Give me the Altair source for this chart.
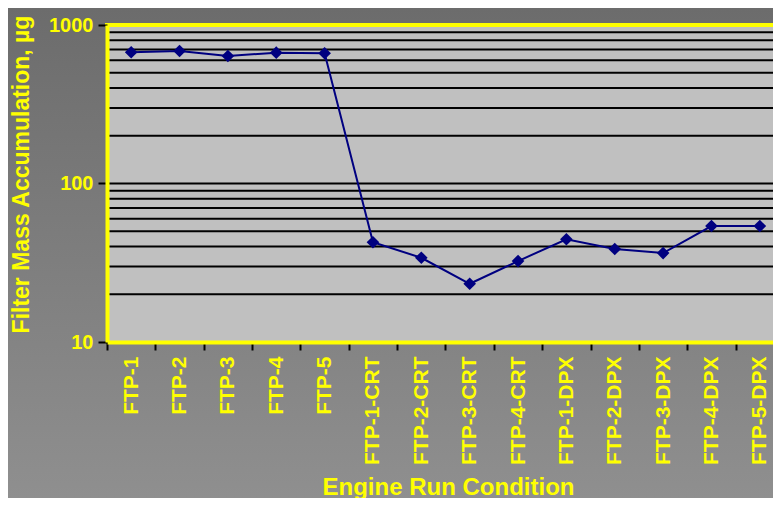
import altair as alt
import pandas as pd

categories = ["FTP-1", "FTP-2", "FTP-3", "FTP-4", "FTP-5",
              "FTP-1-CRT", "FTP-2-CRT", "FTP-3-CRT", "FTP-4-CRT",
              "FTP-1-DPX", "FTP-2-DPX", "FTP-3-DPX", "FTP-4-DPX", "FTP-5-DPX"]
mass_ug = [673, 685, 637, 669, 663, 42.6, 34.0, 23.3, 32.4, 44.5, 38.6, 36.4, 53.9, 53.9]
grid_values = [20, 30, 40, 50, 60, 70, 80, 90, 100, 200, 300, 400, 500, 600, 700, 800, 900]
y_tick_values = [10, 100, 1000]

FONT = "Liberation Sans"
YELLOW = "#ffff00"
W, H, RANGE_W = 666, 317, 677
PAD_L, PAD_T, PAD_B = 99, 17, 156

df = pd.DataFrame({"condition": categories, "mass": mass_ug})
grid_df = pd.DataFrame({"g": grid_values})
one = pd.DataFrame({"k": [0]})

yscale = alt.Scale(type="log", domain=[10, 1000], nice=False)

y_axis = alt.Axis(
    values=y_tick_values, format="d",
    title="Filter Mass Accumulation, µg", titleFont=FONT, titleFontSize=23,
    titleFontWeight="bold", titleColor=YELLOW, titleAngle=270,
    titleX=-86, titleY=149, titleBaseline="middle", titleAlign="center",
    labelFont=FONT, labelFontSize=20, labelFontWeight="bold", labelColor=YELLOW,
    labelPadding=5, tickSize=9, tickWidth=2, tickColor="black",
    domainColor=YELLOW, domainWidth=4, grid=False, zindex=1,
)

x_enc = alt.X(
    "condition:N", sort=categories, bandPosition=0.5,
    scale=alt.Scale(type="band", range=[0, RANGE_W], paddingInner=0, paddingOuter=0),
    axis=alt.Axis(
        title="Engine Run Condition", titleFont=FONT, titleFontSize=24, titleFontWeight="bold",
        titleColor=YELLOW, titleX=341, titleY=152, titleBaseline="alphabetic", titleAlign="center",
        labelAngle=270, labelFont=FONT, labelFontSize=21, labelFontWeight="bold",
        labelColor=YELLOW, labelPadding=6, labelOverlap=False,
        tickSize=8, tickWidth=2, tickColor="black", tickBand="extent",
        domainColor=YELLOW, domainWidth=4, grid=False, zindex=1,
    ),
)
y_enc = alt.Y("mass:Q", scale=yscale, axis=y_axis)

bg = alt.Chart(one).mark_rect(
    color=alt.LinearGradient(
        gradient="linear",
        stops=[alt.GradientStop(offset=0, color="#6c6c6c"),
               alt.GradientStop(offset=1, color="#8f8f8f")],
        x1=0, x2=0, y1=0, y2=1,
    )
).encode(x=alt.value(-PAD_L), x2=alt.value(W + 10), y=alt.value(-PAD_T), y2=alt.value(H + PAD_B))

plot_bg = alt.Chart(one).mark_rect(color="#c0c0c0").encode(
    x=alt.value(0), x2=alt.value(RANGE_W), y=alt.value(0), y2=alt.value(H)
)

grid = alt.Chart(grid_df).mark_rule(color="black", strokeWidth=2).encode(
    y=alt.Y("g:Q", scale=yscale, axis=y_axis), x=alt.value(0), x2=alt.value(RANGE_W)
)

line = alt.Chart(df).mark_line(color="#000080", strokeWidth=2).encode(x=x_enc, y=y_enc)
pts = alt.Chart(df).mark_point(shape="diamond", filled=True, size=160, color="#000080", opacity=1).encode(
    x=x_enc, y=y_enc
)

top_border = alt.Chart(one).mark_rule(color=YELLOW, strokeWidth=4).encode(
    y=alt.value(0), x=alt.value(-2), x2=alt.value(RANGE_W)
)

chart = alt.layer(bg, plot_bg, grid, line, pts, top_border).properties(
    width=W, height=H,
    autosize=alt.AutoSizeParams(type="none"),
    padding={"left": PAD_L, "top": PAD_T, "right": 0, "bottom": PAD_B},
).configure(background="#7d7d7d").configure_view(stroke=None)

chart.save("out.html", embed_options={"renderer": "svg", "actions": False})
